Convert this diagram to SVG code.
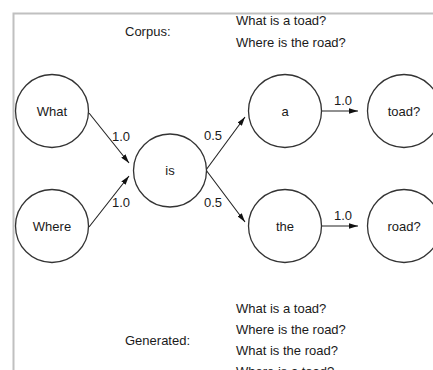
<svg xmlns="http://www.w3.org/2000/svg" width="433" height="370" viewBox="0 0 433 370">
<style>
text{font-family:"Liberation Sans",Arial,sans-serif;font-size:13px;fill:#1a1a1a}
.n{text-anchor:middle}
circle{fill:#fff;stroke:#333;stroke-width:1.3}
.e{stroke:#222;stroke-width:1.1;fill:none;marker-end:url(#ah)}
</style>
<defs>
<marker id="ah" viewBox="0 0 10 6" refX="10" refY="3" markerWidth="9" markerHeight="5.4" markerUnits="userSpaceOnUse" orient="auto">
<path d="M0,0 L10,3 L0,6 Z" fill="#111"/>
</marker>
</defs>
<path d="M13.5,370 V13.5 H433" fill="none" stroke="#c0c0c0" stroke-width="2"/>
<text x="125" y="36">Corpus:</text>
<text x="236" y="25">What is a toad?</text>
<text x="236" y="47">Where is the road?</text>
<g id="connectors">
<line class="e" x1="89" y1="113" x2="129" y2="163"/>
<line class="e" x1="89" y1="227" x2="129" y2="176"/>
<line class="e" x1="206" y1="170" x2="245" y2="117"/>
<line class="e" x1="206" y1="170" x2="245" y2="222"/>
<line class="e" x1="322" y1="111" x2="358" y2="111"/>
<line class="e" x1="322" y1="226" x2="358" y2="226"/>
<text class="n" x="121" y="141">1.0</text>
<text class="n" x="121" y="207">1.0</text>
<text class="n" x="213" y="140">0.5</text>
<text class="n" x="213" y="207">0.5</text>
<text class="n" x="343" y="105">1.0</text>
<text class="n" x="343" y="220">1.0</text>
</g>
<g id="n-what"><circle cx="52" cy="111" r="36.5"/><text class="n" x="52" y="116">What</text></g>
<g id="n-where"><circle cx="52" cy="226" r="36.5"/><text class="n" x="52" y="231">Where</text></g>
<g id="n-is"><circle cx="170" cy="170.5" r="36.5"/><text class="n" x="170" y="175">is</text></g>
<g id="n-a"><circle cx="285" cy="111" r="36.5"/><text class="n" x="285" y="116">a</text></g>
<g id="n-toad"><circle cx="404" cy="111" r="36.5"/><text class="n" x="404" y="116">toad?</text></g>
<g id="n-the"><circle cx="285" cy="226" r="36.5"/><text class="n" x="285" y="231">the</text></g>
<g id="n-road"><circle cx="404" cy="226" r="36.5"/><text class="n" x="404" y="231">road?</text></g>
<text x="125" y="345">Generated:</text>
<text x="236" y="313">What is a toad?</text>
<text x="236" y="334">Where is the road?</text>
<text x="236" y="355">What is the road?</text>
<text x="236" y="376">Where is a toad?</text>
</svg>
